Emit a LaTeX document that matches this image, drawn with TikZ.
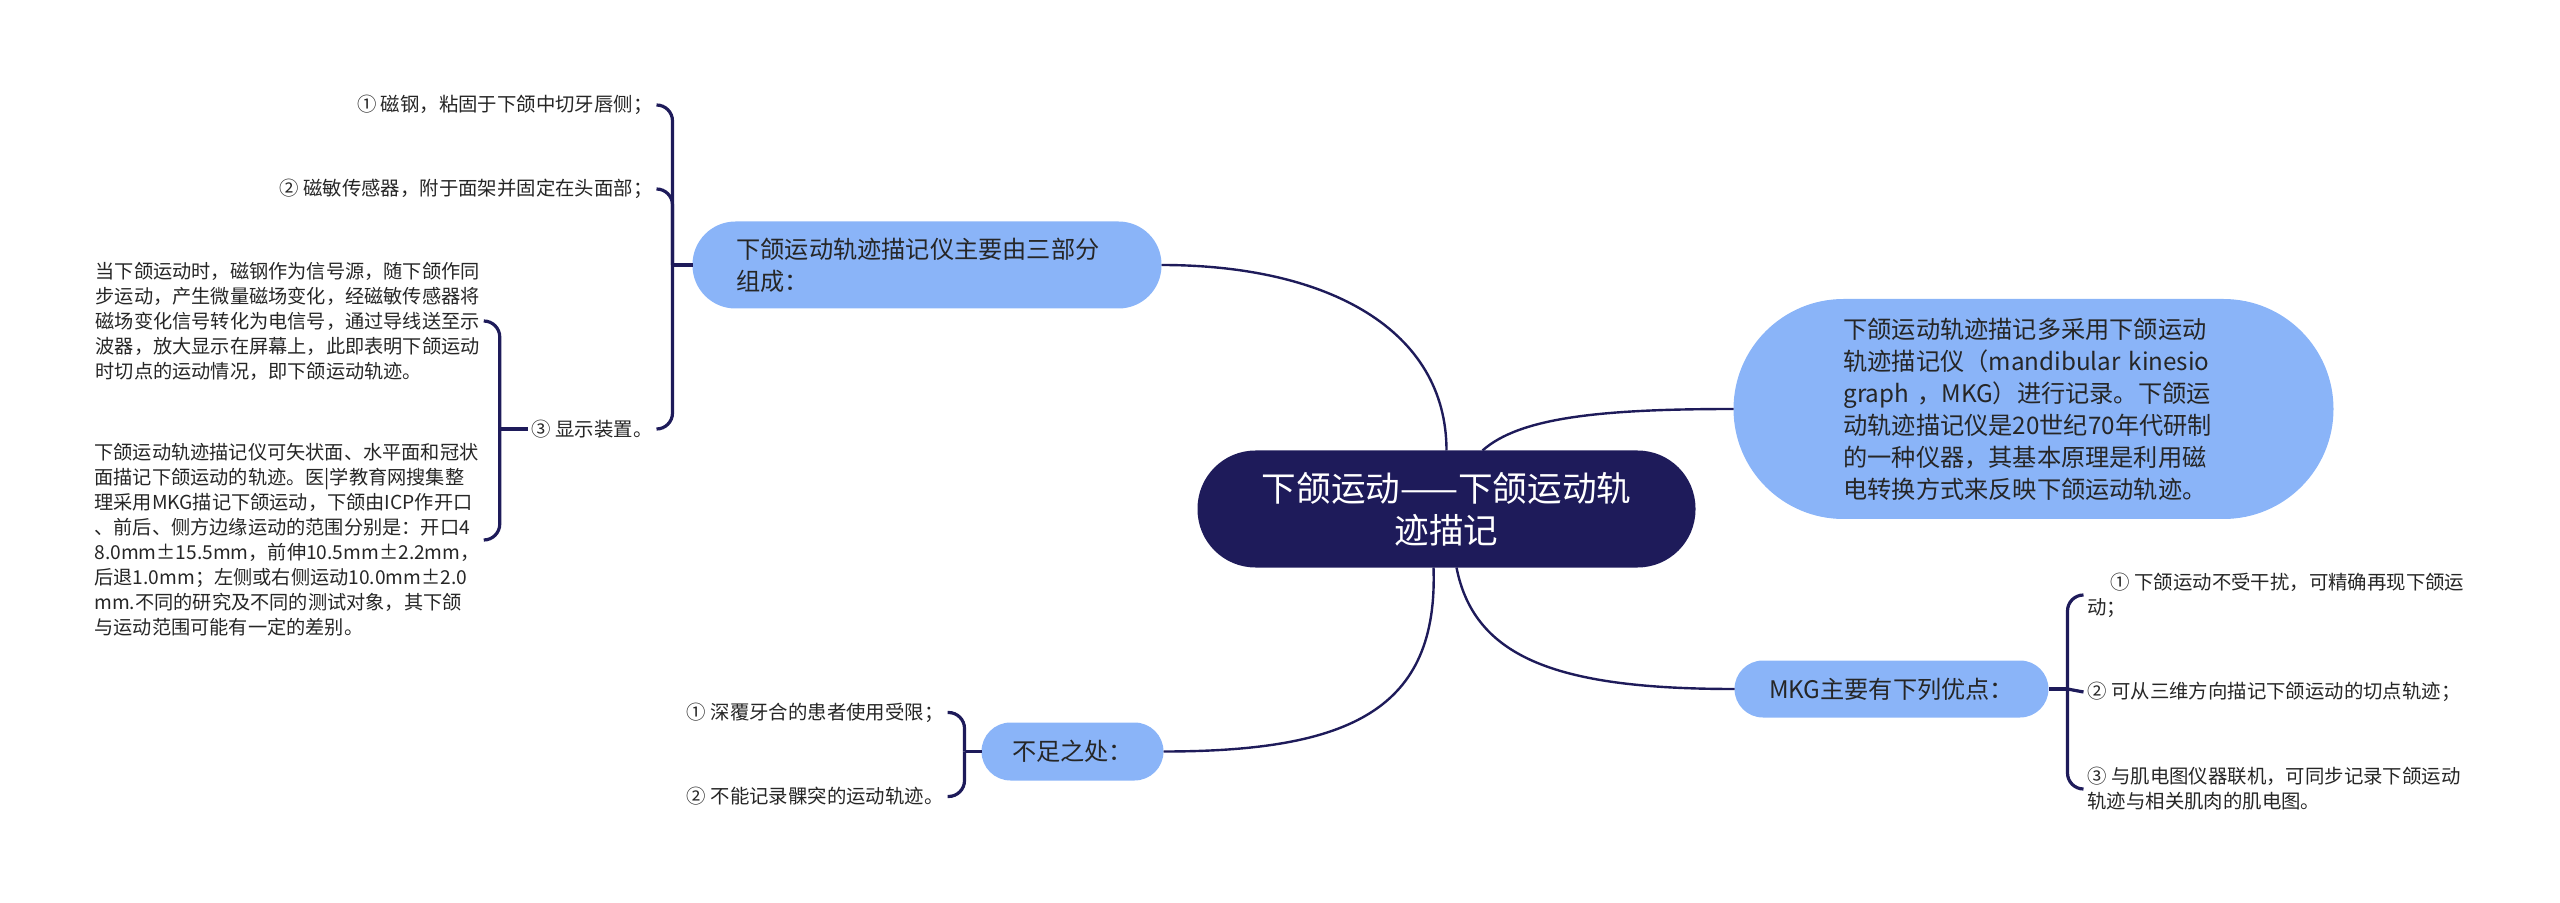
\documentclass[tikz,border=0pt]{standalone}
\usepackage{fontspec}
\setmainfont{Noto Sans CJK SC}
\usetikzlibrary{positioning}
\definecolor{navy}{HTML}{1E1B5A}
\definecolor{skyblue}{HTML}{8AB4F8}
\definecolor{inkgray}{HTML}{262626}

\begin{document}
\begin{tikzpicture}[
  root/.style={fill=navy, text=white, rounded corners=29pt, minimum width=249pt, minimum height=58.5pt, align=center, outer sep=0pt, font=\fontsize{17.3pt}{21pt}\selectfont},
  topic/.style={fill=skyblue, text=inkgray, rounded corners=#1, outer sep=0pt, font=\fontsize{12.1pt}{16pt}\selectfont},
  leaf/.style={text=inkgray, inner xsep=2pt, inner ysep=1pt, outer sep=0pt, align=left, font=\fontsize{9.7pt}{12.5pt}\selectfont},
  note/.style={leaf, font=\fontsize{9.6pt}{12.5pt}\selectfont},
  branch/.style={draw=navy, line width=1.2pt},
  brace/.style={draw=navy, line width=1.6pt, rounded corners=8pt}
]
\useasboundingbox (0,0) rectangle (1280pt,-451.5pt);

\node[root] (root) at (723.25pt,-254.5pt) {下颌运动——下颌运动轨\\迹描记};

% main branches
\node[topic=21.5pt, minimum width=234.5pt, minimum height=43.5pt, text width=190.5pt, inner xsep=22pt, align=left, above left=71pt and 18pt of root] (parts) {下颌运动轨迹描记仪主要由三部分\\组成：};
\node[topic=55pt, minimum height=110pt, text width=190pt, inner xsep=55pt, align=left, right=19pt of root, yshift=50pt] (intro) {下颌运动轨迹描记多采用下颌运动\\轨迹描记仪（mandibular kinesio\\graph ，MKG）进行记录。下颌运\\动轨迹描记仪是20世纪70年代研制\\的一种仪器，其基本原理是利用磁\\电转换方式来反映下颌运动轨迹。};
\node[topic=14.25pt, minimum width=157pt, minimum height=28.5pt, below right=46.5pt and 19.5pt of root] (merit) {MKG主要有下列优点：};
\node[topic=14.5pt, minimum width=91pt, minimum height=29pt, below left=77.5pt and 17pt of root] (flaw) {不足之处：};

\draw[branch] (parts.east) .. controls +(84pt,0) and +(0,60pt) .. (root.north);
\draw[branch] ([xshift=18pt]root.north) .. controls +(18.5pt,16.5pt) and +(-66.5pt,0) .. (intro.west);
\draw[branch] ([xshift=5pt]root.south) .. controls +(9pt,-46pt) and +(-87pt,0) .. (merit.west);
\draw[branch] ([xshift=-6.5pt]root.south) .. controls +(2.5pt,-71pt) and +(93.5pt,0) .. (flaw.east);

% three parts
\coordinate[left=10pt of parts] (jparts);
\node[leaf, left=8pt of jparts, yshift=80pt] (part1) {① 磁钢，粘固于下颌中切牙唇侧；};
\node[leaf, left=8pt of jparts, yshift=38pt] (part2) {② 磁敏传感器，附于面架并固定在头面部；};
\node[leaf, left=8pt of jparts, yshift=-82pt] (part3) {③ 显示装置。};
\draw[brace] (parts.west) -- (jparts);
\draw[brace] (jparts) |- (part1.east);
\draw[brace] (jparts) |- (part2.east);
\draw[brace] (jparts) |- (part3.east);

\coordinate[left=14pt of part3] (jshow);
\node[note, left=8pt of jshow, yshift=54pt] (show1) {当下颌运动时，磁钢作为信号源，随下颌作同\\步运动，产生微量磁场变化，经磁敏传感器将\\磁场变化信号转化为电信号，通过导线送至示\\波器，放大显示在屏幕上，此即表明下颌运动\\时切点的运动情况，即下颌运动轨迹。};
\node[note, left=8pt of jshow, yshift=-55.5pt] (show2) {下颌运动轨迹描记仪可矢状面、水平面和冠状\\面描记下颌运动的轨迹。医|学教育网搜集整\\理采用MKG描记下颌运动，下颌由ICP作开口\\、前后、侧方边缘运动的范围分别是：开口4\\8.0mm±15.5mm，前伸10.5mm±2.2mm，\\后退1.0mm；左侧或右侧运动10.0mm±2.0\\mm.不同的研究及不同的测试对象，其下颌\\与运动范围可能有一定的差别。};
\draw[brace] (part3.west) -- (jshow);
\draw[brace] (jshow) |- (show1.east);
\draw[brace] (jshow) |- (show2.east);

% merits
\coordinate[right=9.5pt of merit] (jmerit);
\node[leaf, right=8pt of jmerit, yshift=47pt] (merit1) {\hspace*{1.2em}① 下颌运动不受干扰，可精确再现下颌运\\动；};
\node[leaf, right=8pt of jmerit, yshift=-1.5pt] (merit2) {② 可从三维方向描记下颌运动的切点轨迹；};
\node[leaf, right=8pt of jmerit, yshift=-50pt] (merit3) {③ 与肌电图仪器联机，可同步记录下颌运动\\轨迹与相关肌肉的肌电图。};
\draw[brace] (merit.east) -- (jmerit);
\draw[brace] (jmerit) |- (merit1.west);
\draw[brace] (jmerit) -- (merit2.west);
\draw[brace] (jmerit) |- (merit3.west);

% flaws
\coordinate[left=8.5pt of flaw] (jflaw);
\node[leaf, left=8.5pt of jflaw, yshift=19.5pt] (flaw1) {① 深覆牙合的患者使用受限；};
\node[leaf, left=8.5pt of jflaw, yshift=-22.5pt] (flaw2) {② 不能记录髁突的运动轨迹。};
\draw[brace] (flaw.west) -- (jflaw);
\draw[brace] (jflaw) |- (flaw1.east);
\draw[brace] (jflaw) |- (flaw2.east);
\end{tikzpicture}
\end{document}
